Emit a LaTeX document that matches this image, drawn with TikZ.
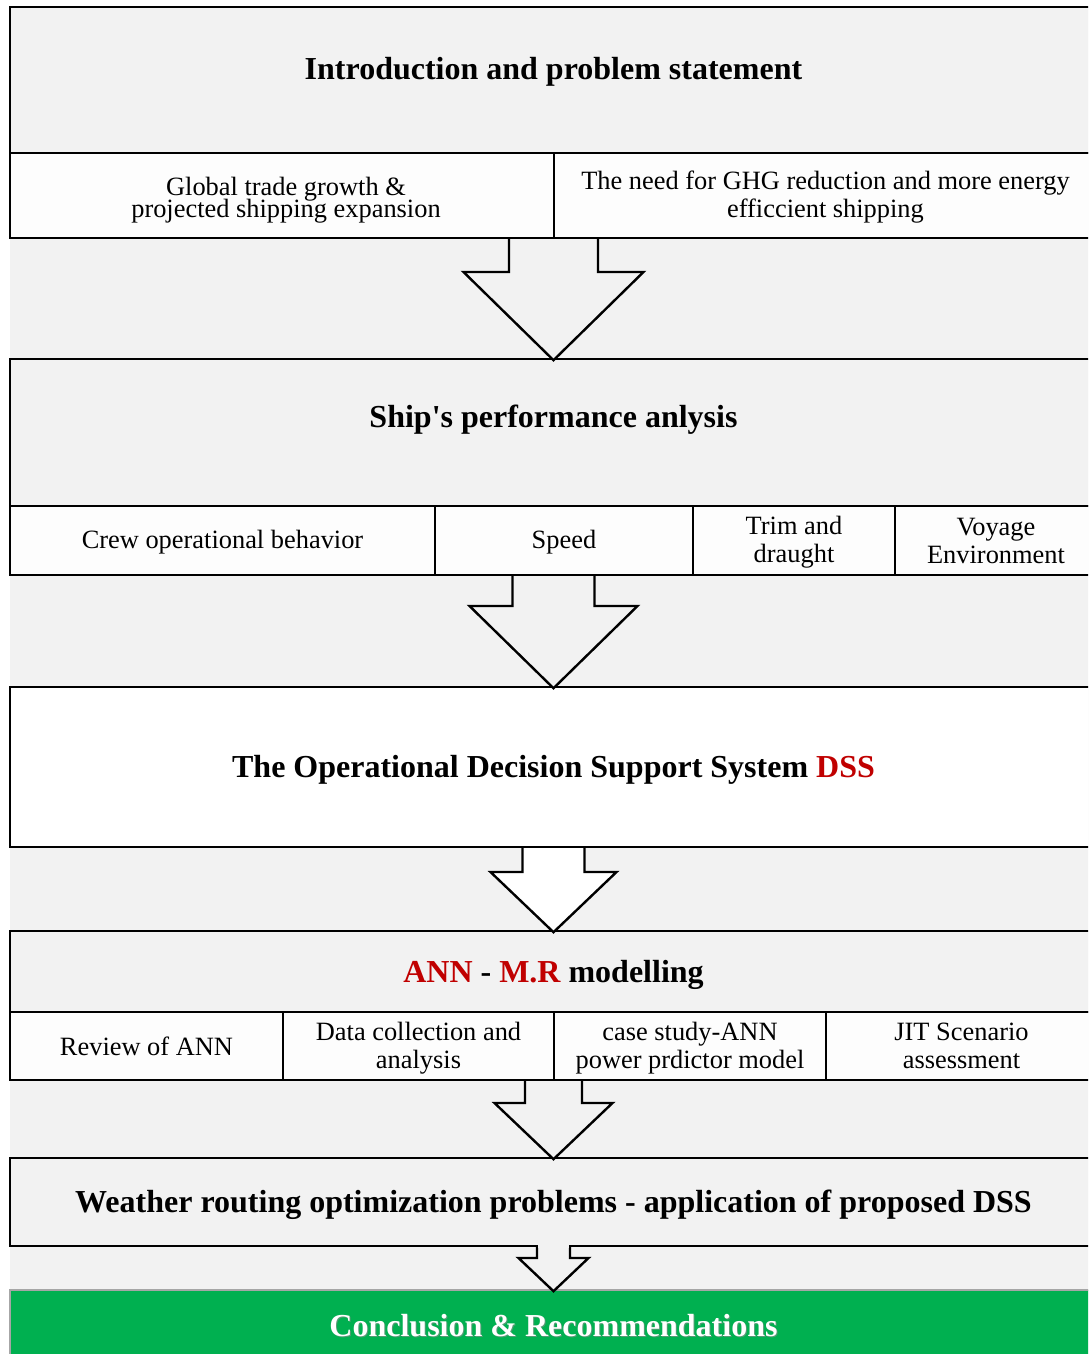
\documentclass[tikz,border=0pt]{standalone}
\usepackage{fontspec}
\setmainfont{Liberation Serif}[Ligatures=TeXOff]
\usetikzlibrary{calc}
\definecolor{bg}{HTML}{F2F2F2}
\definecolor{cellw}{HTML}{FDFDFD}
\definecolor{dred}{HTML}{C00000}
\definecolor{grn}{HTML}{00B050}
\newcommand\blockarr[6][bg]{%
  \draw[blkarrow, fill=#1] let \p1=(#2), \p2=(#3) in
   (\x2-#4,\y1-0.6pt) -- (\x2-#4,\y1-#6) -- (\x2-#5,\y1-#6) -- (\x2,\y2-0.6pt)
   -- (\x2+#5,\y1-#6) -- (\x2+#4,\y1-#6) -- (\x2+#4,\y1-0.6pt);}
\newcommand\lowr[2][1pt]{\raisebox{-#1}[\height][\depth]{#2}}
\newcommand\twol[2]{\begin{tabular}{@{}c@{}}#1\\#2\end{tabular}}
\begin{document}
\begin{tikzpicture}[x=0.5pt,y=-0.5pt,
  frame/.style={draw=black, line width=1.2pt, inner sep=0pt, outer sep=0pt, anchor=north west},
  titlebox/.style={frame, fill=bg, minimum width=543.5pt},
  titletext/.style={font=\fontsize{16}{19}\selectfont\bfseries, inner sep=0pt},
  cellbox/.style={frame, fill=cellw, align=center, font=\fontsize{13.2}{14}\selectfont},
  blkarrow/.style={draw=black, line width=1.2pt, line join=miter},
]
\useasboundingbox (0,0) rectangle (1088,1354);
\clip (0,0) rectangle (1088,1354);
\fill[bg] (10,7) rectangle (1100,1360);

% ---- Box 1
\node[titlebox, minimum height=73pt] (intro) at (10,7) {};
\node[titletext] (introT) at (553.5,72) {Introduction and problem statement};
\node[cellbox, minimum width=272pt, minimum height=42.5pt] (b1l) at (10,153) {};
\node[inner sep=0pt, font=\fontsize{13.2}{14}\selectfont] (b1lT) at (286,201)
  {\begin{tabular}{@{}c@{}}Global trade growth \&\\[-3pt]projected shipping expansion\end{tabular}};
\node[cellbox, minimum width=271.5pt, minimum height=42.5pt] (b1r) at (b1l.north east)
  {\lowr{\twol{The need for GHG reduction and more energy}{efficcient shipping}}};

% ---- Box 2
\node[titlebox, minimum height=73.5pt] (perf) at (10,359) {};
\node[titletext] (perfT) at (553.5,420) {Ship's performance anlysis};
\node[cellbox, minimum width=212.5pt, minimum height=34.5pt] (c1) at (10,506) {\lowr{Crew operational behavior}};
\node[cellbox, minimum width=129pt, minimum height=34.5pt] (c2) at (c1.north east) {\lowr{Speed}};
\node[cellbox, minimum width=101pt, minimum height=34.5pt] (c3) at (c2.north east) {\lowr{\twol{Trim and}{draught}}};
\node[cellbox, minimum width=101pt, minimum height=34.5pt] (c4) at (c3.north east) {Voyage\\Environment};

% ---- Box 3
\node[titlebox, fill=white, minimum height=80pt, titletext] (dss) at (10,687)
  {\lowr[1.5pt]{The Operational Decision Support System \textcolor{dred}{DSS}}};

% ---- Box 4
\node[titlebox, minimum height=40.5pt, titletext] (ann) at (10,931)
  {\lowr[1.5pt]{\textcolor{dred}{ANN} - \textcolor{dred}{M.R} modelling}};
\node[cellbox, minimum width=136.5pt, minimum height=34pt] (d1) at (10,1012) {Review of ANN};
\node[cellbox, minimum width=135.5pt, minimum height=34pt] (d2) at (d1.north east) {\lowr[1.5pt]{\twol{Data collection and}{analysis}}};
\node[cellbox, minimum width=136pt, minimum height=34pt] (d3) at (d2.north east) {\lowr[1.5pt]{\twol{case study-ANN}{power prdictor model}}};
\node[cellbox, minimum width=135.5pt, minimum height=34pt] (d4) at (d3.north east) {JIT Scenario\\assessment};

% ---- Box 5
\node[titlebox, minimum height=44pt, titletext] (wr) at (10,1158)
  {\lowr[1.5pt]{Weather routing optimization problems - application of proposed DSS}};

% ---- Conclusion
\node[frame, draw=gray!70, line width=0.6pt, fill=grn, minimum width=543.5pt, minimum height=35pt] (conc) at (10,1290) {};
\node[titletext, text=black!45, opacity=0.6] (concS) at (554.5,1327) {Conclusion \& Recommendations};
\node[titletext, text=white] (concT) at (553.5,1325.5) {Conclusion \& Recommendations};

% ---- Block arrows
\blockarr{b1l.south east}{perf.north}{22.25pt}{45pt}{17pt}
\blockarr{c1.south east}{dss.north}{20.5pt}{42pt}{15.5pt}
\blockarr[white]{dss.south}{ann.north}{15.5pt}{31.5pt}{12.5pt}
\blockarr{d2.south east}{wr.north}{14.25pt}{29.5pt}{11.5pt}
\blockarr{wr.south}{conc.north}{8.25pt}{17.5pt}{6pt}
\fill[bg] ($(wr.south)+(-7.6pt,0.8pt)$) rectangle ($(wr.south)+(7.6pt,-0.8pt)$);
\end{tikzpicture}
\end{document}
